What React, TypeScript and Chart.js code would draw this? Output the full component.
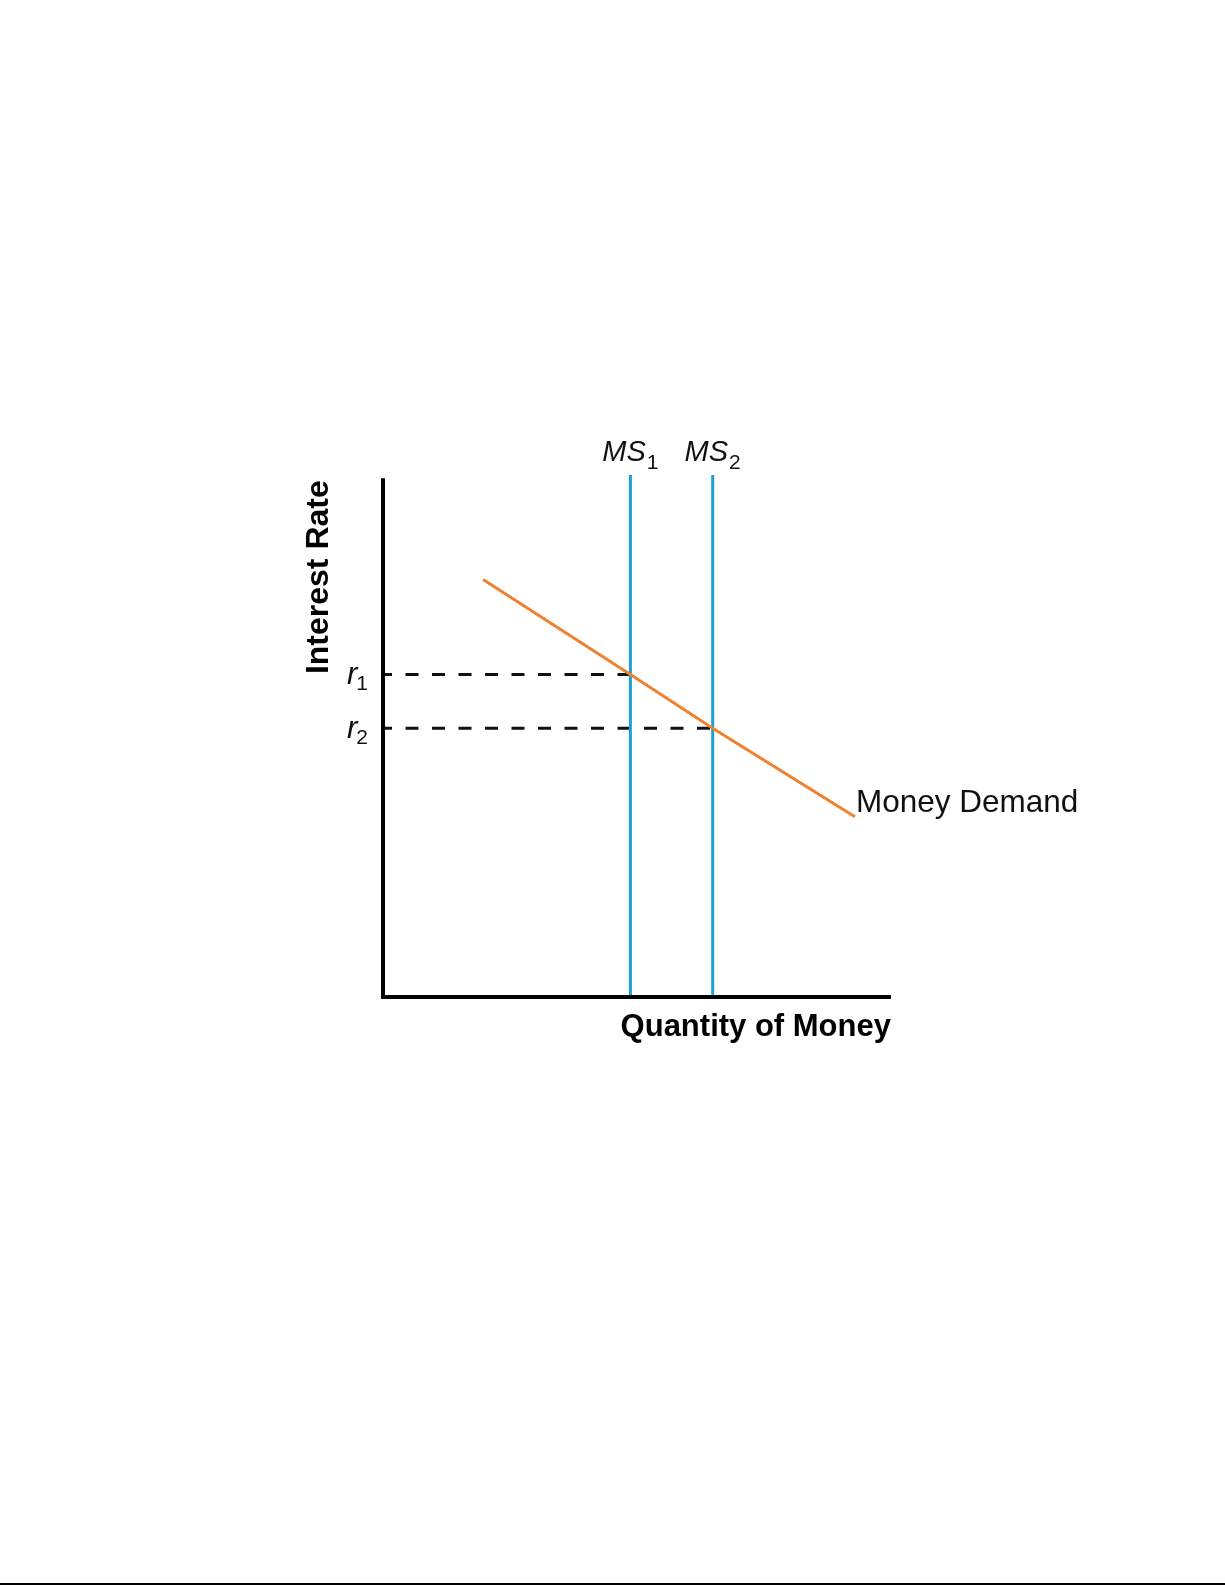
import React, { useEffect, useRef } from "react";
import { Chart, registerables } from "chart.js";

Chart.register(...registerables);

// ---- data ----
const xRange = [0, 10];
const yRange = [0, 10];
const xAxisEnd = 9.96; // end of the horizontal axis line
const yAxisEnd = 9.9; // top of the vertical axis line
const supplyLevels = [4.87, 6.49]; // MS1, MS2 quantities
const supplyLabels = ["MS", "MS"];
const supplySubs = ["1", "2"];
const supplyTop = 10;
const rateLevels = [6.18, 5.147]; // r1, r2
const rateLabels = ["r", "r"];
const rateSubs = ["1", "2"];
const demandX = [1.97, 4.87, 6.49, 9.29];
const demandY = [8.0, 6.18, 5.147, 3.454];
const demandLabel = "Money Demand";
const xTitle = "Quantity of Money";
const yTitle = "Interest Rate";

const BLUE = "#1e9fd8";
const ORANGE = "#f0812e";
const FONT = "'Liberation Sans', Arial, sans-serif";

const labelPlugin = {
  id: "econLabels",
  afterDatasetsDraw(chart: any) {
    const ctx = chart.ctx as CanvasRenderingContext2D;
    const xs = chart.scales.x;
    const ys = chart.scales.y;
    const area = chart.chartArea;
    ctx.save();
    ctx.fillStyle = "#111";
    ctx.textBaseline = "alphabetic";

    // MS labels above supply lines
    supplyLevels.forEach((v, i) => {
      const px = xs.getPixelForValue(v);
      ctx.font = `italic 29px ${FONT}`;
      const w1 = ctx.measureText(supplyLabels[i]).width;
      ctx.font = `21px ${FONT}`;
      const w2 = ctx.measureText(supplySubs[i]).width;
      const start = px - (w1 + w2 + 1) / 2;
      const base = area.top - 14;
      ctx.textAlign = "left";
      ctx.font = `italic 29px ${FONT}`;
      ctx.fillText(supplyLabels[i], start, base);
      ctx.font = `21px ${FONT}`;
      ctx.fillText(supplySubs[i], start + w1 + 1, base + 8);
    });

    // r labels left of y axis
    rateLevels.forEach((v, i) => {
      const py = ys.getPixelForValue(v);
      const right = area.left - 15;
      ctx.font = `21px ${FONT}`;
      const w2 = ctx.measureText(rateSubs[i]).width;
      ctx.textAlign = "right";
      ctx.fillText(rateSubs[i], right, py + 16);
      ctx.font = `italic 31px ${FONT}`;
      ctx.fillText(rateLabels[i], right - w2 + 1, py + 10);
    });

    // Money Demand label
    const ex = xs.getPixelForValue(demandX[demandX.length - 1]);
    const ey = ys.getPixelForValue(demandY[demandY.length - 1]);
    ctx.textAlign = "left";
    ctx.font = `31.5px ${FONT}`;
    ctx.fillText(demandLabel, ex + 1, ey - 5);

    // x axis title
    ctx.fillStyle = "#000";
    ctx.font = `bold 31px ${FONT}`;
    ctx.textAlign = "right";
    ctx.fillText(xTitle, xs.getPixelForValue(xAxisEnd) + 2, area.bottom + 39);

    // y axis title (rotated)
    ctx.save();
    ctx.translate(area.left - 55, ys.getPixelForValue(yAxisEnd));
    ctx.rotate(-Math.PI / 2);
    ctx.font = `bold 32px ${FONT}`;
    ctx.textAlign = "right";
    ctx.fillText(yTitle, 0, 0);
    ctx.restore();

    ctx.restore();
  },
};

export default function App() {
  const ref = useRef<HTMLCanvasElement | null>(null);

  useEffect(() => {
    if (!ref.current) return;
    const axisStyle = {
      borderColor: "#000",
      borderWidth: 4,
      borderCapStyle: "square" as const,
      pointRadius: 0,
      fill: false,
      clip: false,
    };
    const datasets: any[] = [
      { ...axisStyle, data: [{ x: 0, y: 0 }, { x: 0, y: yAxisEnd }] },
      { ...axisStyle, data: [{ x: 0, y: 0 }, { x: xAxisEnd, y: 0 }] },
      {
        data: demandX.map((x, i) => ({ x, y: demandY[i] })),
        borderColor: ORANGE,
        borderWidth: 3,
        pointRadius: 0,
        tension: 0,
        clip: false,
      },
      ...supplyLevels.map((v) => ({
        data: [{ x: v, y: 0 }, { x: v, y: supplyTop }],
        borderColor: BLUE,
        borderWidth: 3,
        pointRadius: 0,
        clip: false,
      })),
      ...rateLevels.map((r, i) => ({
        data: [{ x: 0, y: r }, { x: supplyLevels[i], y: r }],
        borderColor: "#111",
        borderWidth: 3,
        borderDash: [13, 13.5],
        borderDashOffset: 4,
        pointRadius: 0,
        clip: false,
      })),
    ];

    const chart = new Chart(ref.current, {
      type: "line",
      data: { datasets },
      options: {
        responsive: false,
        animation: false,
        events: [],
        layout: { padding: { left: 383, right: 334, top: 475, bottom: 588 } },
        plugins: { legend: { display: false }, tooltip: { enabled: false } },
        scales: {
          x: { type: "linear", min: xRange[0], max: xRange[1], display: false },
          y: { type: "linear", min: yRange[0], max: yRange[1], display: false },
        },
      },
      plugins: [labelPlugin],
    });
    return () => chart.destroy();
  }, []);

  return (
    <div>
      <canvas
        ref={ref}
        width={1225}
        height={1585}
        style={{ position: "absolute", top: 0, left: 0, width: 1225, height: 1585, background: "#fff" }}
      />
      <div
        style={{ position: "absolute", left: 0, top: 1583, width: 1225, height: 2, background: "#000" }}
      />
    </div>
  );
}
